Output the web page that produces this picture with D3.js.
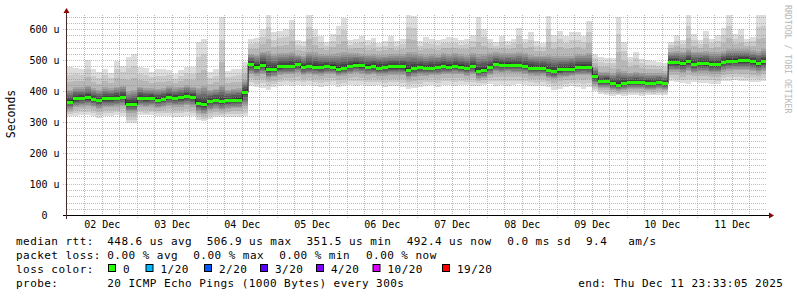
<!DOCTYPE html>
<html><head><meta charset="utf-8">
<script src="https://cdn.jsdelivr.net/npm/d3@7"></script>
<style>
body{margin:0;background:#fff}
svg{display:block}
text{font-family:"DejaVu Sans Mono",monospace;white-space:pre}
</style>
</head><body>
<svg id="c" width="797" height="297"></svg>
<script>
// ---- data (values in microseconds) ----
const startTime = Date.UTC(2025, 11, 1, 23, 33, 5);
const endTime   = Date.UTC(2025, 11, 11, 23, 33, 5);
const stepStart = Date.UTC(2025, 11, 2, 0, 0, 0);
const stepHours = 2;

const median = [
 366,377,378,380,375,371,377,377,379,382,360,360,379,377,378,373,376,382,378,380,384,381,362,358,368,372,367,371,372,373,
 398,488,479,486,470,472,480,481,481,488,477,480,479,477,481,479,472,476,481,486,483,479,480,476,477,480,480,480,469,475,
 477,475,476,477,481,479,482,479,474,480,466,469,478,488,484,486,485,485,482,476,475,476,468,464,470,472,473,477,479,477,
 448,432,434,426,421,425,428,429,428,427,425,428,426,495,494,490,497,487,491,490,487,487,495,499,499,500,500,497,490,496];

const pingMax = [
 478,475,470,500,470,462,472,458,498,482,510,520,478,474,462,470,470,468,455,468,478,478,560,569,462,470,640,465,470,472,
 495,570,572,600,646,590,595,600,630,566,561,646,600,577,560,585,610,635,565,570,577,566,572,556,561,577,561,570,646,643,
 561,575,568,565,570,575,572,566,570,580,640,600,570,558,577,561,570,604,570,590,561,556,642,580,595,577,590,590,577,626,
 520,510,506,506,640,560,510,528,505,500,497,494,490,560,580,565,646,585,565,594,570,580,605,646,585,600,570,575,646,646];

const pingUp = [
 405,412,412,418,410,405,412,410,415,418,400,405,414,410,410,408,410,416,412,415,420,415,410,418,405,408,420,405,408,410,
 435,520,518,528,530,520,522,522,528,518,515,528,525,520,518,520,522,525,522,522,520,518,520,518,518,520,520,520,528,525,
 520,518,520,518,522,520,522,520,518,522,520,520,522,525,522,522,522,525,522,518,515,515,518,515,515,515,515,520,518,522,
 478,462,462,458,470,465,460,462,460,458,458,458,455,528,530,528,535,528,528,530,525,525,530,535,535,535,535,532,530,535];

const pingDn = [
 340,348,350,352,348,343,348,348,350,352,330,330,350,348,350,345,348,352,350,350,354,350,330,325,338,342,338,342,344,345,
 352,455,450,455,440,445,452,455,455,458,452,455,452,450,455,455,448,450,455,458,456,452,454,450,450,452,452,452,440,445,
 450,450,452,452,455,454,456,454,450,455,440,442,452,460,458,460,458,458,456,450,450,450,442,438,444,446,448,452,452,452,
 420,410,410,405,400,404,406,408,406,405,404,406,405,462,462,458,465,458,460,460,456,456,462,466,468,468,468,465,460,465];

const pingMin = [
 320,320,324,322,320,313,320,320,322,320,297,297,322,322,322,320,320,320,318,318,320,320,308,305,310,315,315,318,318,318,
 320,418,412,410,405,412,418,420,418,420,418,420,416,414,418,420,412,416,420,418,420,416,418,420,414,416,418,414,408,410,
 412,418,420,412,420,420,418,420,420,416,418,420,422,418,420,418,420,422,420,418,416,418,414,405,408,414,416,412,408,414,
 400,392,388,384,386,384,386,388,384,388,386,386,388,432,428,426,424,428,426,426,424,422,432,434,436,434,432,430,428,432];

const yTickValues = [0, 100, 200, 300, 400, 500, 600];
const yTickLabels = ["0  ", "100 u", "200 u", "300 u", "400 u", "500 u", "600 u"];

const lossLabels = ["0", "1/20", "2/20", "3/20", "4/20", "10/20", "19/20"];
const lossColors = ["#26ff00", "#00b8ff", "#0059ff", "#5e00ff", "#7e00ff", "#dd00ff", "#ff0000"];

const legendRtt  = ["median rtt:", "448.6 us avg", "506.9 us max", "351.5 us min", "492.4 us now", "0.0 ms sd", "9.4", "am/s"];
const legendLoss = ["packet loss:", "0.00 % avg", "0.00 % max", "0.00 % min", "0.00 % now"];
const probeText = ["probe:", "20 ICMP Echo Pings (1000 Bytes) every 300s"];
const endText = "end: Thu Dec 11 23:33:05 2025";
const yTitle = "Seconds";
const sideText = "RRDTOOL / TOBI OETIKER";

// ---- layout ----
const X0 = 66, X1 = 766, YT = 15, YB = 215;
const svg = d3.select("#c");
const x = d3.scaleUtc().domain([new Date(startTime), new Date(endTime)]).range([X0, X1]);
const y = d3.scaleLinear().domain([0, 646]).range([YB, YT]);
const stepT = i => new Date(stepStart + i * stepHours * 3600e3);

svg.append("defs").append("clipPath").attr("id", "plot")
  .append("rect").attr("x", 67).attr("y", YT).attr("width", X1 - 67).attr("height", YB - YT);

// ---- smoke (10 gray bands between the read quantiles) ----
const nSteps = median.length;
const smokeG = svg.append("g").attr("clip-path", "url(#plot)").attr("shape-rendering", "crispEdges");
const BREAK = 4;
function bandBounds(i, k) {
  const lo = pingMin[i], dn = pingDn[i], md = median[i], up = pingUp[i], hi = pingMax[i];
  let low, top;
  if (k <= BREAK) {
    low = lo + (dn - lo) * (k - 1) / (BREAK - 1);
    top = hi + (up - hi) * (k - 1) / (BREAK - 1);
  } else {
    const f = (k - BREAK) / (10 - BREAK) * 0.9;
    low = dn + (md - dn) * f;
    top = up + (md - up) * f;
  }
  return [low, top];
}
for (let k = 1; k <= 10; k++) {
  const c = Math.floor(190 / 10 * (10 - k)) + 50;
  const col = d3.rgb(c, c, c).formatHex();
  smokeG.append("g").selectAll("rect").data(d3.range(nSteps)).join("rect")
    .attr("x", i => x(stepT(i)))
    .attr("width", i => x(stepT(i + 1)) - x(stepT(i)))
    .attr("y", i => y(bandBounds(i, k)[1]))
    .attr("height", i => y(bandBounds(i, k)[0]) - y(bandBounds(i, k)[1]))
    .attr("fill", col);
}

// ---- grid ----
const gridG = svg.append("g");
const minorH = d3.range(20, 646, 20).filter(v => v % 100 !== 0);
const majorH = d3.range(100, 646, 100);
gridG.selectAll("line.mh").data(minorH).join("line")
  .attr("x1", 67).attr("x2", X1).attr("y1", v => Math.round(y(v)) + 0.5).attr("y2", v => Math.round(y(v)) + 0.5)
  .attr("stroke", "rgba(143,143,143,0.6)").attr("stroke-dasharray", "1,1");
const sixH = d3.utcHour.every(6).range(new Date(stepStart), new Date(endTime));
const minorV = sixH.filter(d => d.getUTCHours() !== 0);
const majorV = sixH.filter(d => d.getUTCHours() === 0 && x(d) > 67.5);
gridG.selectAll("line.mv").data(minorV).join("line")
  .attr("x1", d => Math.floor(x(d)) + 0.5).attr("x2", d => Math.floor(x(d)) + 0.5)
  .attr("y1", YT).attr("y2", YB + 2)
  .attr("stroke", "rgba(143,143,143,0.6)").attr("stroke-dasharray", "1,1");
gridG.selectAll("line.Mh").data(majorH).join("line")
  .attr("x1", 63).attr("x2", X1).attr("y1", v => Math.round(y(v)) + 0.5).attr("y2", v => Math.round(y(v)) + 0.5)
  .attr("stroke", "rgba(255,95,95,0.55)").attr("stroke-dasharray", "1,1");
gridG.selectAll("line.Mv").data(majorV).join("line")
  .attr("x1", d => Math.floor(x(d)) + 0.5).attr("x2", d => Math.floor(x(d)) + 0.5)
  .attr("y1", YT).attr("y2", YB + 3)
  .attr("stroke", "rgba(255,95,95,0.55)").attr("stroke-dasharray", "1,1");

// ---- median ----
const medG = svg.append("g").attr("clip-path", "url(#plot)");
const medPts = d3.range(nSteps).map(i => [stepT(i), median[i]]);
medPts.push([stepT(nSteps), median[nSteps - 1]]);
medG.append("path").datum(medPts)
  .attr("d", d3.line().x(d => x(d[0])).y(d => Math.round(y(d[1])) + 0.5).curve(d3.curveStepAfter))
  .attr("fill", "none").attr("stroke", "#202020").attr("stroke-width", 1);
medG.append("g").attr("shape-rendering", "crispEdges").selectAll("rect").data(d3.range(nSteps)).join("rect")
  .attr("x", i => x(stepT(i)))
  .attr("width", i => x(stepT(i + 1)) - x(stepT(i)))
  .attr("y", i => Math.round(y(median[i])) - 1)
  .attr("height", 3)
  .attr("fill", lossColors[0]);

// ---- axes ----
const axG = svg.append("g");
axG.append("line").attr("x1", 63).attr("x2", 770).attr("y1", YB + 0.5).attr("y2", YB + 0.5)
  .attr("stroke", "#000").attr("stroke-width", 1);
axG.append("line").attr("x1", 66.5).attr("x2", 66.5).attr("y1", YB + 4).attr("y2", 10)
  .attr("stroke", "#4a2a2a").attr("stroke-width", 1);
axG.append("path").attr("d", "M769,212.5L774,215.5L769,218.5Z").attr("fill", "#8b0000");
axG.append("path").attr("d", "M63.5,13L66.5,8L69.5,13Z").attr("fill", "#8b0000");

// y tick labels
axG.selectAll("text.yl").data(yTickValues).join("text")
  .attr("x", 59.5).attr("y", v => Math.round(y(v)) + 4)
  .attr("text-anchor", "end").attr("font-size", 10).attr("fill", "#000")
  .text((v, i) => yTickLabels[i]);

// x day labels (at noon)
const noons = d3.utcDay.range(new Date(stepStart), new Date(endTime)).map(d => d3.utcHour.offset(d, 12));
axG.selectAll("text.xl").data(noons).join("text")
  .attr("x", d => x(d)).attr("y", 227.5)
  .attr("text-anchor", "middle").attr("font-size", 10).attr("fill", "#000")
  .text(d => d3.utcFormat("%d %b")(d));

// y title
svg.append("text").attr("transform", "translate(14.5,114) rotate(-90)")
  .attr("text-anchor", "middle").attr("font-size", 11.5).attr("fill", "#000").text(yTitle);

// side text
svg.append("text").attr("transform", "translate(785,5) rotate(90)")
  .attr("font-size", 8.2).attr("fill", "#b8b8b8").text(sideText);

// ---- legend ----
const legG = svg.append("g").attr("font-size", 11).attr("letter-spacing", "0.45px").attr("fill", "#000");
const rttX = [16, 107.3, 206.7, 306.5, 406.7, 507.3, 586, 628.3];
legendRtt.forEach((t, i) => legG.append("text").attr("x", rttX[i]).attr("y", 244.5).text(t));
const lossX = [16, 107.3, 193.3, 279.3, 366];
legendLoss.forEach((t, i) => legG.append("text").attr("x", lossX[i]).attr("y", 258.7).text(t));
legG.append("text").attr("x", 16).attr("y", 272.9).text("loss color:");
const boxX = [108, 145.5, 204, 260, 316, 372.5, 442];
lossLabels.forEach((t, i) => {
  legG.append("rect").attr("x", boxX[i] + 0.5).attr("y", 264.5).attr("width", 7).attr("height", 7)
    .attr("fill", lossColors[i]).attr("stroke", "#000").attr("stroke-width", 1);
  legG.append("text").attr("x", boxX[i] + 15).attr("y", 272.9).text(t);
});
const probeX = [16, 107.3];
probeText.forEach((t, i) => legG.append("text").attr("x", probeX[i]).attr("y", 287).text(t));
legG.append("text").attr("x", 578.3).attr("y", 287).text(endText);
</script>
</body></html>
